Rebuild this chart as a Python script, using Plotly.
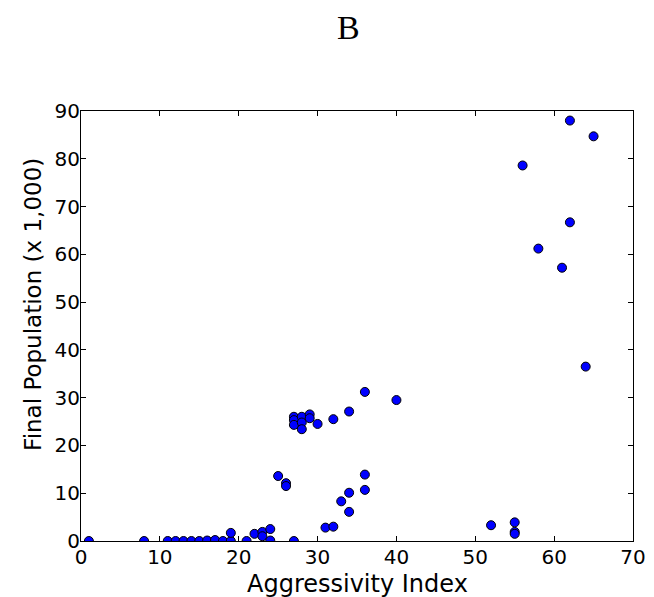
import plotly.graph_objects as go

aggressivity = [1, 8, 11, 12, 13, 14, 15, 16, 17, 18, 19, 19, 21, 22, 23, 23, 24, 24, 27,
                25, 26, 26,
                27, 27, 27, 28, 28, 28, 29, 29, 30, 32, 34, 36, 40,
                31, 32, 33, 34, 34, 36, 36, 52, 55, 55, 55,
                62, 65, 56, 62, 58, 61, 64]
population = [0, 0, 0, 0, 0, 0, 0, 0.1, 0.2, 0, 0, 1.7, 0, 1.5, 1.9, 1.0, 2.5, 0.1, 0,
              13.6, 12.1, 11.5,
              26.0, 25.3, 24.3, 26.0, 24.8, 23.4, 26.5, 25.7, 24.5, 25.5, 27.1, 31.2, 29.5,
              2.8, 3.0, 8.3, 10.1, 6.1, 13.9, 10.7, 3.3, 3.9, 1.9, 1.5,
              88.0, 84.7, 78.6, 66.7, 61.2, 57.2, 36.5]

fig = go.Figure(go.Scatter(
    x=aggressivity, y=population, mode="markers",
    marker=dict(color="#0000ff", size=9, line=dict(color="black", width=1)),
    cliponaxis=True, showlegend=False))

axis_common = dict(showline=True, linecolor="black", linewidth=1, mirror="allticks",
                   ticks="inside", ticklen=5, tickcolor="black", showgrid=False,
                   zeroline=False, automargin=False)

fig.update_layout(
    width=654, height=597,
    margin=dict(l=81, r=21, t=111, b=56),
    paper_bgcolor="white", plot_bgcolor="white",
    xaxis=dict(range=[0, 70], tick0=0, dtick=10, ticklabelstandoff=-2,
               tickfont=dict(family="DejaVu Sans", size=20, color="black"),
               **axis_common),
    yaxis=dict(range=[0, 90], tick0=0, dtick=10, ticklabelstandoff=-4,
               tickfont=dict(family="DejaVu Sans", size=20, color="black"),
               **axis_common),
    annotations=[
        dict(text="B", x=0.484, xref="paper", y=1.195, yref="paper", yanchor="middle",
             showarrow=False, font=dict(family="Liberation Serif", size=34, color="black")),
        dict(text="Final Population (x 1,000)", textangle=-90, x=-0.088, xref="paper",
             y=0.55, yref="paper", xanchor="center", yanchor="middle", showarrow=False,
             font=dict(family="DejaVu Sans", size=23, color="black")),
        dict(text="Aggressivity Index", x=0.5, xref="paper", y=-0.099, yref="paper",
             xanchor="center", yanchor="middle", showarrow=False,
             font=dict(family="DejaVu Sans", size=24, color="black")),
    ],
)
fig.write_html("out.html")
